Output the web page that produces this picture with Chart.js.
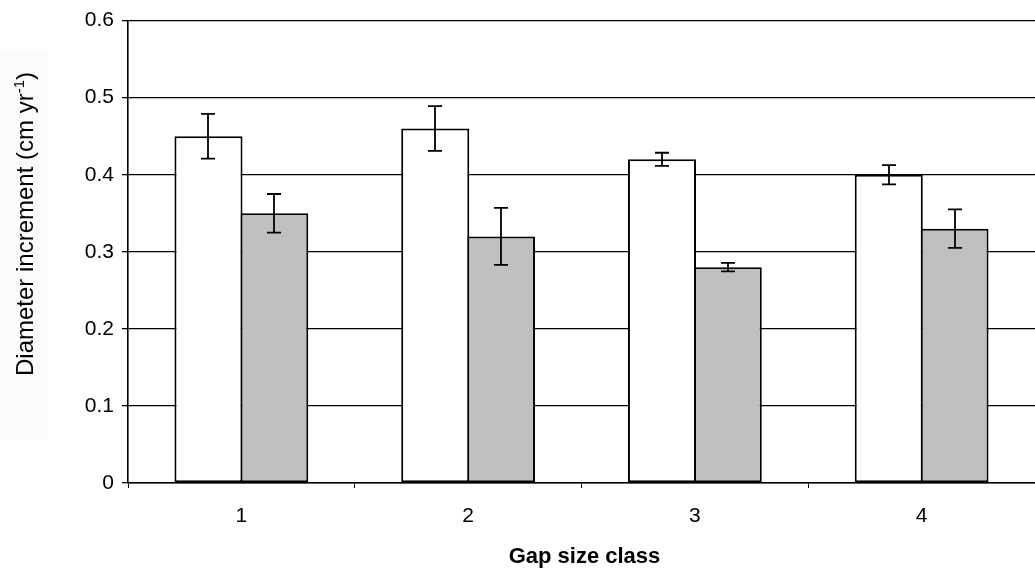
<!DOCTYPE html>
<html>
<head>
<meta charset="utf-8">
<script src="https://cdn.jsdelivr.net/npm/chart.js@4.4.1/dist/chart.umd.min.js"></script>
<style>
  html, body { margin: 0; padding: 0; background: #ffffff; overflow: hidden; }
  #wrap { position: relative; width: 1035px; height: 570px; }
</style>
</head>
<body>
<div id="wrap"><canvas id="chart" width="1035" height="570"></canvas></div>
<script>
// Gap size classes along the x axis
const categories = ['1', '2', '3', '4'];

// Mean diameter increment (cm/yr) for the two groups
const seriesOpen = [0.45, 0.46, 0.42, 0.40];
const seriesShaded = [0.35, 0.32, 0.28, 0.33];

// Standard errors drawn as whiskers
const errorOpen = [0.029, 0.029, 0.0085, 0.0125];
const errorShaded = [0.025, 0.037, 0.0055, 0.025];

// Y axis ticks
const yTicks = [0, 0.1, 0.2, 0.3, 0.4, 0.5, 0.6];

const FONT = '"Liberation Sans", Arial, Helvetica, sans-serif';

// Faint panel behind the y-axis title
const titlePanel = {
  id: 'titlePanel',
  beforeDraw(chart) {
    const ctx = chart.ctx;
    ctx.save();
    ctx.fillStyle = '#fbfbfb';
    ctx.fillRect(0, 50, 47, 389);
    ctx.restore();
  }
};

// Whiskers on top of each bar
const errorBars = {
  id: 'errorBars',
  afterDatasetsDraw(chart) {
    const ctx = chart.ctx;
    const y = chart.scales.y;
    const errs = [errorOpen, errorShaded];
    ctx.save();
    ctx.strokeStyle = '#000000';
    ctx.lineWidth = 1.8;
    chart.data.datasets.forEach((ds, di) => {
      const meta = chart.getDatasetMeta(di);
      meta.data.forEach((bar, i) => {
        const v = ds.data[i];
        const e = errs[di][i];
        const x = Math.round(bar.x);
        const yTop = y.getPixelForValue(v + e);
        const yBot = y.getPixelForValue(v - e);
        const half = 7;
        ctx.beginPath();
        ctx.moveTo(x, yTop); ctx.lineTo(x, yBot);
        ctx.moveTo(x - half, yTop); ctx.lineTo(x + half, yTop);
        ctx.moveTo(x - half, yBot); ctx.lineTo(x + half, yBot);
        ctx.stroke();
      });
    });
    ctx.restore();
  }
};

// Axis titles, including the superscript unit on the y title
const axisTitles = {
  id: 'axisTitles',
  afterDraw(chart) {
    const ctx = chart.ctx;
    const area = chart.chartArea;
    ctx.save();
    ctx.fillStyle = '#000000';

    // x title
    ctx.font = 'bold 22px ' + FONT;
    ctx.textAlign = 'center';
    ctx.textBaseline = 'middle';
    ctx.fillText('Gap size class', (area.left + area.right) / 2 + 3, 557);

    // y title, rotated
    const mainFont = '24px ' + FONT;
    const supFont = '15px ' + FONT;
    const partA = 'Diameter increment (cm yr';
    const sup = '-1';
    const partB = ')';
    ctx.font = mainFont;
    const wA = ctx.measureText(partA).width;
    const wB = ctx.measureText(partB).width;
    ctx.font = supFont;
    const wS = ctx.measureText(sup).width;
    const total = wA + wS + wB;
    ctx.translate(33, 224);
    ctx.rotate(-Math.PI / 2);
    ctx.textAlign = 'left';
    ctx.textBaseline = 'alphabetic';
    let x = -total / 2;
    ctx.font = mainFont;
    ctx.fillText(partA, x, 0);
    x += wA;
    ctx.font = supFont;
    ctx.fillText(sup, x, -9);
    x += wS;
    ctx.font = mainFont;
    ctx.fillText(partB, x, 0);
    ctx.restore();
  }
};

new Chart(document.getElementById('chart'), {
  type: 'bar',
  data: {
    labels: categories,
    datasets: [
      {
        data: seriesOpen,
        backgroundColor: '#ffffff',
        borderColor: '#000000',
        borderWidth: 2,
        borderSkipped: false
      },
      {
        data: seriesShaded,
        backgroundColor: '#c0c0c0',
        borderColor: '#000000',
        borderWidth: 2,
        borderSkipped: false
      }
    ]
  },
  options: {
    responsive: false,
    animation: false,
    devicePixelRatio: 1,
    layout: { padding: { top: 18, left: 0, right: 0, bottom: 0 } },
    datasets: { bar: { barPercentage: 1.035, categoryPercentage: 0.58 } },
    plugins: {
      legend: { display: false },
      tooltip: { enabled: false },
      title: { display: false }
    },
    scales: {
      x: {
        offset: true,
        grid: {
          offset: true,
          drawOnChartArea: false,
          drawTicks: true,
          tickLength: 5,
          color: '#000000',
          lineWidth: 1
        },
        border: { display: true, color: '#000000', width: 1.6 },
        ticks: {
          color: '#000000',
          font: { family: FONT, size: 21 },
          padding: 16
        },
        afterFit(scale) { scale.height = 87; }
      },
      y: {
        min: 0,
        max: 0.6,
        afterBuildTicks(scale) {
          scale.ticks = yTicks.map(v => ({ value: v }));
        },
        grid: {
          color: '#000000',
          lineWidth: 1.3,
          drawTicks: true,
          tickLength: 6
        },
        border: { display: true, color: '#000000', width: 1.6 },
        ticks: {
          color: '#000000',
          font: { family: FONT, size: 21 },
          padding: 8,
          callback: v => (v === 0 ? '0' : v.toFixed(1))
        },
        afterFit(scale) { scale.width = 128; }
      }
    }
  },
  plugins: [titlePanel, errorBars, axisTitles]
});
</script>
</body>
</html>
